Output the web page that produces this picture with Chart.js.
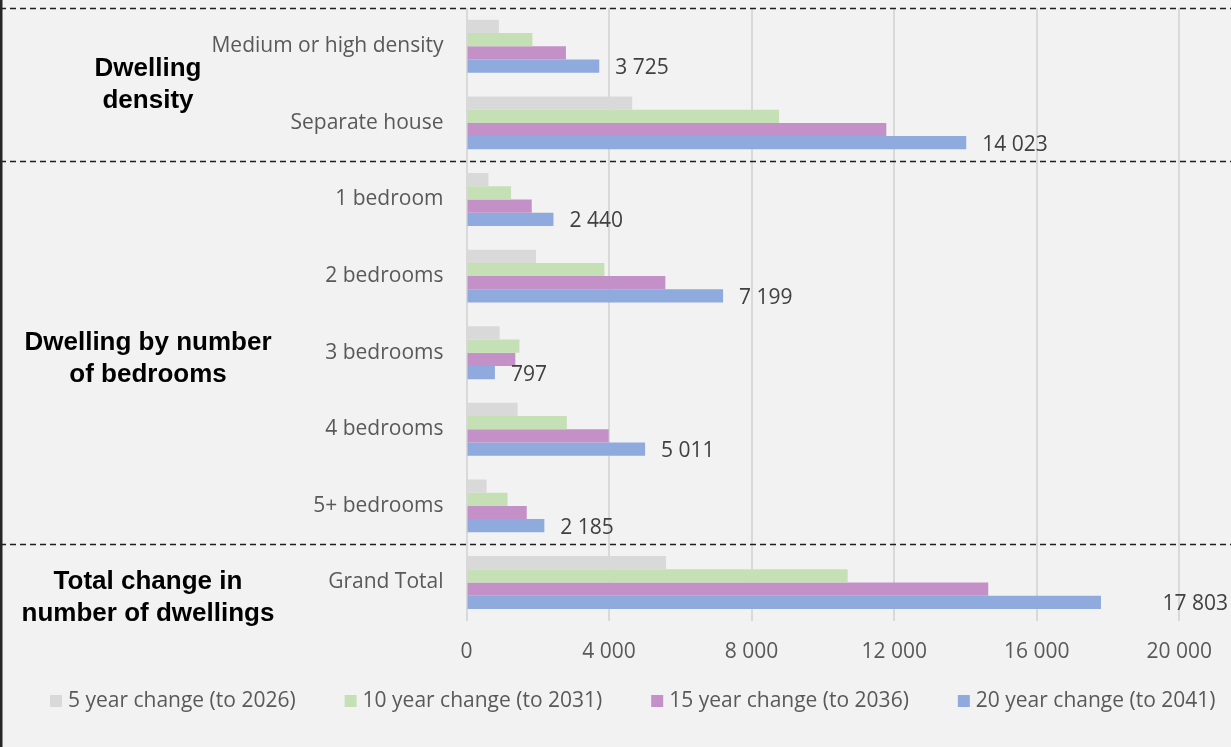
<!DOCTYPE html>
<html>
<head>
<meta charset="utf-8">
<title>Change in number of dwellings</title>
<script src="https://cdn.jsdelivr.net/npm/chart.js@4/dist/chart.umd.min.js"></script>
<style>
  html, body { margin: 0; padding: 0; background: #f2f2f2; }
  #wrap { width: 1231px; height: 747px; position: relative; }
</style>
</head>
<body>
<div id="wrap"><canvas id="dwellingChart"></canvas></div>
<script>
// Categories (top to bottom)
const categories = [
    'Medium or high density', 'Separate house',
    '1 bedroom', '2 bedrooms', '3 bedrooms', '4 bedrooms', '5+ bedrooms',
    'Grand Total'
];

// Change in dwellings per horizon
const change5 = [909, 4650, 615, 1950, 930, 1435, 565, 5596];
const change10 = [1850, 8770, 1250, 3870, 1485, 2815, 1150, 10695];
const change15 = [2790, 11780, 1830, 5580, 1370, 3990, 1690, 14640];
const change20 = [3725, 14023, 2440, 7199, 797, 5011, 2185, 17803];

const seriesNames = [
    '5 year change (to 2026)',
    '10 year change (to 2031)',
    '15 year change (to 2036)',
    '20 year change (to 2041)'
];

// Group headings on the left and the category rows they cover
const groupTitles = [
    ['Dwelling', 'density'],
    ['Dwelling by number', 'of bedrooms'],
    ['Total change in', 'number of dwellings']
];
const groupRanges = [[0, 1], [2, 6], [7, 7]];

const xTicks = [0, 4000, 8000, 12000, 16000, 20000];

const colors = ['#d9d9d9', '#c5e0b4', '#c391c7', '#8faadc'];
const GREY_TEXT = '#595959';
const FONT = "'Open Sans', sans-serif";

// 17803 -> "17 803"
function fmt(n) {
    return String(n).replace(/\B(?=(\d{3})+(?!\d))/g, ' ');
}

// Category names, separators, group headings, value labels and the legend row
const groupsPlugin = {
    id: 'groups',
    afterDatasetsDraw(chart) {
        const { ctx, scales: { x } } = chart;
        const meta = chart.getDatasetMeta(3);
        ctx.save();
        ctx.font = `21px ${FONT}`;
        ctx.fillStyle = '#404040';
        ctx.textBaseline = 'middle';
        meta.data.forEach((bar, i) => {
            const v = change20[i];
            if (v > 0.85 * x.max) {
                // long bar: label pushed to the right edge
                ctx.textAlign = 'right';
                ctx.fillText(fmt(v), chart.width - 3, bar.y + 2);
            } else {
                ctx.textAlign = 'left';
                ctx.fillText(fmt(v), bar.x + 16, bar.y + 2);
            }
        });
        ctx.restore();
    },
    afterDraw(chart) {
        const { ctx, chartArea, scales: { y } } = chart;
        const half = (y.getPixelForValue(1) - y.getPixelForValue(0)) / 2;
        ctx.save();

        // category names, right aligned against the plot
        ctx.font = `21px ${FONT}`;
        ctx.fillStyle = GREY_TEXT;
        ctx.textAlign = 'right';
        ctx.textBaseline = 'middle';
        categories.forEach((c, i) => {
            ctx.fillText(c, chartArea.left - 23, y.getPixelForValue(i));
        });

        // dashed separators above each group
        ctx.setLineDash([6, 4]);
        ctx.strokeStyle = '#1f1f1f';
        ctx.lineWidth = 1.3;
        groupRanges.forEach(([from]) => {
            const yy = Math.round(y.getPixelForValue(from) - half) + 0.5;
            ctx.beginPath();
            ctx.moveTo(0, yy);
            ctx.lineTo(chart.width, yy);
            ctx.stroke();
        });
        ctx.setLineDash([]);

        // left frame edge
        ctx.fillStyle = '#262626';
        ctx.fillRect(0, 0, 2.5, chart.height);

        // group headings
        const nudge = [0, 6, 15];
        ctx.font = `bold 26px 'Liberation Sans', Arial, sans-serif`;
        ctx.fillStyle = '#000000';
        ctx.textAlign = 'center';
        groupRanges.forEach(([from, to], g) => {
            const mid = (y.getPixelForValue(from) + y.getPixelForValue(to)) / 2 + nudge[g];
            const lines = groupTitles[g];
            lines.forEach((line, k) => {
                ctx.fillText(line, 148, mid + (k - (lines.length - 1) / 2) * 32);
            });
        });

        // legend row
        ctx.font = `21px ${FONT}`;
        ctx.textAlign = 'left';
        const ly = 701;
        let lx = 50;
        seriesNames.forEach((name, i) => {
            ctx.fillStyle = colors[i];
            ctx.fillRect(lx, ly - 6, 12, 12);
            ctx.fillStyle = GREY_TEXT;
            ctx.fillText(name, lx + 18, ly);
            lx += 18 + ctx.measureText(name).width + 49;
        });
        ctx.restore();
    }
};

const ctx = document.getElementById('dwellingChart').getContext('2d');
new Chart(ctx, {
    type: 'bar',
    data: {
        labels: categories,
        datasets: [change5, change10, change15, change20].map((d, i) => ({
            label: seriesNames[i],
            data: d,
            backgroundColor: colors[i],
            borderWidth: 0,
            barPercentage: 1,
            categoryPercentage: 0.69
        }))
    },
    options: {
        indexAxis: 'y',
        responsive: true,
        maintainAspectRatio: false,
        animation: false,
        layout: {
            autoPadding: false,
            padding: { top: 8, right: 51, bottom: 63, left: 0 }
        },
        scales: {
            x: {
                min: 0,
                max: 20000,
                afterBuildTicks: s => { s.ticks = xTicks.map(v => ({ value: v })); },
                grid: { color: '#d9d9d9', lineWidth: 2, drawTicks: false },
                border: { display: false },
                ticks: {
                    padding: 19,
                    color: GREY_TEXT,
                    font: { family: FONT, size: 21 },
                    callback: v => fmt(v)
                }
            },
            y: {
                afterFit: s => { s.width = 466.5; },
                grid: { display: false, drawTicks: false },
                border: { display: false },
                ticks: { display: false }
            }
        },
        plugins: {
            tooltip: { enabled: false },
            legend: { display: false }
        }
    },
    plugins: [groupsPlugin]
});
</script>
</body>
</html>
